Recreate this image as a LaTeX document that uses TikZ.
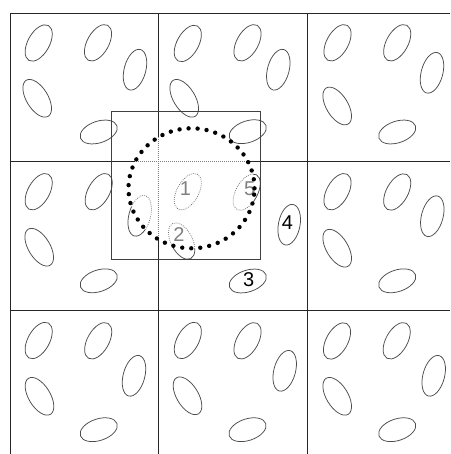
\documentclass[tikz,border=0pt]{standalone}
\usepackage{fontspec}
\setmainfont{Liberation Sans}
\tikzset{
  elsolid/.style={draw=black!70, line width=0.75pt},
  gridsolid/.style={draw=black!85, line width=0.8pt},
  eldot/.style={draw=black!55, line width=0.75pt, dash pattern=on 0.8pt off 1.2pt},
  griddot/.style={draw=black!50, line width=0.8pt, dash pattern=on 0.8pt off 1.2pt},
  boxline/.style={draw=black!75, line width=0.8pt},
  cutoff/.style={draw=black, line width=4.4pt, line cap=round, dash pattern=on 0pt off 9.05pt},
  numlabel/.style={inner sep=0pt, font=\fontsize{20}{20}\selectfont},
}
% x, y (pixels, y downwards), angle, major radius, minor radius, style
\newcommand\myel[6]{\draw[#6] (#1,-#2) ellipse [x radius=#4pt, y radius=#5pt, rotate=#3];}
\newcommand\elA[3]{\myel{#1}{#2}{60.8}{20.0}{10.8}{#3}}
\newcommand\elC[3]{\myel{#1}{#2}{75}{20.9}{10.8}{#3}}
\newcommand\elD[3]{\myel{#1}{#2}{121.3}{21.1}{10.8}{#3}}
\newcommand\elE[3]{\myel{#1}{#2}{18.5}{19.3}{10.8}{#3}}
\newcommand\allshapes[3]{%
  % grid
  \draw[#2] (10,-13.3) -- (450,-13.3);
  \draw[#2] (10,-161.8) -- (450,-161.8);
  \draw[#2] (10,-310) -- (450,-310);
  \draw[#2] (10,-13.3) -- (10,-454);
  \draw[#2] (158.3,-13.3) -- (158.3,-454);
  \draw[#2] (307,-13.3) -- (307,-454);
  % top row
  \elA{38.7}{43}{#1}\elA{98}{42.8}{#1}\elC{135}{69.7}{#1}\elD{37.2}{98.3}{#1}\elE{98.7}{132}{#1}
  \elA{187.8}{43.5}{#1}\elA{247.5}{42.8}{#1}\elC{278.3}{69.7}{#1}\elD{184.2}{98.3}{#1}\elE{247.8}{131.7}{#1}
  \elA{337.5}{42.8}{#1}\elA{397.2}{42.8}{#1}\elC{432}{72.8}{#1}\elD{337.2}{106}{#1}\elE{397.2}{132}{#1}
  % middle row
  \elA{38.7}{191.7}{#1}\elA{98.7}{191.7}{#1}\elC{139.7}{215.8}{#1}\elD{39.2}{247.2}{#1}\elE{98.7}{280.8}{#1}
  \elA{187.8}{191.7}{#1}\elA{246.7}{192.2}{#1}\myel{289.2}{224.7}{79}{20.6}{10.8}{#1}\myel{181.7}{241}{117}{19.8}{10.8}{#1}\elE{247.8}{281}{#1}
  \elA{337.5}{191.7}{#1}\elA{397.2}{192}{#1}\elC{432.3}{216.2}{#1}\elD{337.2}{248.2}{#1}\elE{397.2}{280.8}{#1}
  % bottom row
  \elA{38.7}{340.5}{#1}\elA{98.2}{340.8}{#1}\elC{134}{375.8}{#1}\elD{39.5}{396.3}{#1}\elE{98.7}{429.7}{#1}
  \elA{187.8}{340.5}{#1}\elA{247.5}{340.8}{#1}\elC{284.7}{370.8}{#1}\elD{187.5}{395.8}{#1}\elE{247.5}{429.7}{#1}
  \elA{337}{341}{#1}\elA{396.7}{340.8}{#1}\elC{433.7}{375.8}{#1}\elD{337.2}{396.3}{#1}\elE{397.2}{429.7}{#1}
  % labels
  \node[numlabel, text=#3] (l1#3) at (185.5,-188.7) {1};
  \node[numlabel, text=#3] (l2#3) at (179,-234.5) {2};
  \node[numlabel, text=#3] (l3#3) at (248.7,-279.7) {3};
  \node[numlabel, text=#3] (l4#3) at (287.5,-222.2) {4};
  \node[numlabel, text=#3] (l5#3) at (249.7,-189.2) {5};
}
\begin{document}
\begin{tikzpicture}[x=1pt,y=1pt]
  \useasboundingbox[fill=white] (0,0) rectangle (450,-454);
  \allshapes{elsolid}{gridsolid}{black}
  \fill[white] (191.5,-188.3) ellipse [x radius=63pt, y radius=60pt];
  \begin{scope}
    \clip (191.5,-188.3) ellipse [x radius=63pt, y radius=60pt];
    \allshapes{eldot}{griddot}{gray}
  \end{scope}
  \draw[boxline] (111.2,-111.5) rectangle (260.2,-259.5);
  \draw[cutoff] (191.5,-188.3) ellipse [x radius=63pt, y radius=60pt];
\end{tikzpicture}
\end{document}
